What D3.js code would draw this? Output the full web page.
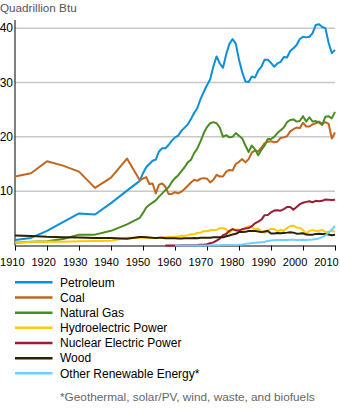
<!DOCTYPE html>
<html>
<head>
<meta charset="utf-8">
<script src="https://cdn.jsdelivr.net/npm/d3@7"></script>
<style>
  body { margin: 0; background: #fff; }
  svg { display: block; font-family: "Liberation Sans", Arial, sans-serif; }
</style>
</head>
<body>
<div id="chart"></div>
<script>
// US primary energy consumption by source, quadrillion Btu
// 5-year steps to 1945, then 1949 and every year 1950-2010
const YEARS = [1910, 1915, 1920, 1925, 1930, 1935, 1940, 1945, 1949, ...d3.range(1950, 2011)];

const PETROLEUM = [1.0, 1.4, 2.7, 4.3, 5.9, 5.7, 7.8, 10.1, 11.9,
  13.3, 14.4, 15.0, 15.6, 15.8, 17.3, 17.9, 17.9, 18.5, 19.3,
  19.9, 20.2, 21.1, 21.7, 22.3, 23.3, 24.4, 25.3, 27.0, 28.3,
  29.5, 30.6, 33.0, 34.8, 33.5, 32.7, 35.2, 37.1, 38.0, 37.1,
  34.2, 31.9, 30.2, 30.1, 31.1, 30.9, 32.2, 32.9, 34.2, 34.2,
  33.6, 32.9, 33.5, 33.8, 34.7, 34.6, 35.8, 36.3, 36.9, 38.0,
  38.4, 38.3, 38.4, 39.1, 40.6, 40.7, 40.2, 40.0, 37.3, 35.4,
  36.0];

const COAL = [12.7, 13.3, 15.5, 14.7, 13.6, 10.6, 12.5, 16.0, 12.0,
  12.3, 12.6, 11.3, 11.4, 9.6, 11.2, 11.4, 10.8, 9.5, 9.5,
  9.8, 9.6, 9.9, 10.4, 11.0, 11.6, 12.1, 11.9, 12.3, 12.4,
  12.3, 11.6, 12.1, 13.0, 12.7, 12.7, 13.6, 13.9, 13.8, 15.0,
  15.4, 15.9, 15.3, 15.9, 17.1, 17.5, 17.3, 18.0, 18.8, 19.1,
  19.2, 19.0, 19.1, 19.8, 19.9, 20.1, 21.0, 21.4, 21.7, 21.6,
  22.6, 21.9, 21.9, 22.3, 22.5, 22.8, 22.4, 22.7, 22.4, 19.7,
  20.8];

const NATURAL_GAS = [0.5, 0.7, 0.8, 1.2, 2.0, 2.0, 2.7, 3.9, 5.1,
  6.0, 7.0, 7.5, 7.9, 8.3, 9.0, 9.6, 10.2, 10.7, 11.7,
  12.4, 12.9, 13.7, 14.4, 15.3, 15.8, 17.0, 17.9, 19.2, 20.7,
  21.8, 22.5, 22.7, 22.5, 21.7, 20.0, 20.3, 19.9, 20.0, 20.7,
  20.2, 19.7, 18.4, 17.2, 18.4, 17.7, 16.6, 17.6, 18.4, 19.6,
  19.6, 20.0, 20.7, 21.2, 21.7, 22.7, 23.1, 23.2, 22.8, 22.9,
  23.8, 22.8, 23.6, 22.8, 22.9, 22.6, 22.2, 23.7, 23.8, 23.4,
  24.6];

const HYDRO = [0.54, 0.66, 0.74, 0.70, 0.79, 0.83, 0.88, 1.44, 1.42,
  1.42, 1.42, 1.47, 1.41, 1.36, 1.36, 1.44, 1.52, 1.59, 1.55,
  1.61, 1.66, 1.82, 1.77, 1.89, 2.06, 2.06, 2.35, 2.35, 2.65,
  2.63, 2.82, 2.86, 2.86, 3.18, 3.16, 2.98, 2.33, 2.94, 2.93,
  2.90, 2.76, 3.27, 3.53, 3.39, 2.97, 3.07, 2.64, 2.33, 2.84,
  3.05, 3.02, 2.62, 2.89, 2.68, 3.21, 3.59, 3.64, 3.30, 3.27,
  2.81, 2.24, 2.69, 2.83, 2.69, 2.70, 2.87, 2.45, 2.51, 2.67,
  2.54];

const NUCLEAR = [null, null, null, null, null, null, null, null, null,
  null, null, null, null, null, null, null, 0.0, 0.0, 0.0,
  0.01, 0.02, 0.03, 0.04, 0.04, 0.04, 0.06, 0.09, 0.14, 0.15,
  0.24, 0.41, 0.58, 0.91, 1.27, 1.90, 2.11, 2.70, 3.02, 2.78,
  2.74, 3.01, 3.13, 3.20, 3.55, 4.08, 4.38, 4.75, 5.59, 5.60,
  6.10, 6.42, 6.48, 6.41, 6.69, 7.08, 7.09, 6.60, 7.07, 7.61,
  7.86, 8.03, 8.15, 7.96, 8.22, 8.16, 8.22, 8.46, 8.43, 8.36,
  8.43];

const WOOD = [1.86, 1.77, 1.61, 1.54, 1.46, 1.40, 1.36, 1.26, 1.55,
  1.56, 1.54, 1.47, 1.42, 1.39, 1.42, 1.42, 1.33, 1.32, 1.35,
  1.32, 1.30, 1.30, 1.32, 1.34, 1.34, 1.37, 1.34, 1.42, 1.44,
  1.43, 1.43, 1.50, 1.53, 1.54, 1.50, 1.71, 1.84, 2.04, 2.15,
  2.48, 2.50, 2.51, 2.68, 2.69, 2.69, 2.56, 2.46, 2.58, 2.68,
  2.22, 2.21, 2.31, 2.26, 2.32, 2.37, 2.44, 2.37, 2.18, 2.21,
  2.26, 2.01, 2.00, 2.00, 2.12, 2.14, 2.11, 2.10, 2.04, 1.88,
  1.99];

const OTHER_RENEWABLE = [null, null, null, null, null, null, null, null, null,
  null, null, null, null, null, null, null, null, null, null,
  0.0, 0.0, 0.0, 0.0, 0.0, 0.0, 0.01, 0.01, 0.01, 0.01,
  0.01, 0.02, 0.03, 0.05, 0.06, 0.07, 0.08, 0.08, 0.08, 0.10,
  0.13, 0.20, 0.30, 0.35, 0.45, 0.50, 0.55, 0.60, 0.65, 0.85,
  0.90, 0.95, 1.00, 1.00, 1.00, 1.00, 1.05, 1.05, 1.00, 1.00,
  1.05, 1.00, 1.05, 1.10, 1.20, 1.30, 1.55, 1.85, 2.40, 2.90,
  3.60];

const SERIES = [
  { name: 'Petroleum', values: PETROLEUM, colour: '#0b8fd8' },
  { name: 'Coal', values: COAL, colour: '#c2651d' },
  { name: 'Natural Gas', values: NATURAL_GAS, colour: '#4a8d22' },
  { name: 'Hydroelectric Power', values: HYDRO, colour: '#ffc808' },
  { name: 'Nuclear Electric Power', values: NUCLEAR, colour: '#9e1b32' },
  { name: 'Wood', values: WOOD, colour: '#2b2000' },
  { name: 'Other Renewable Energy*', values: OTHER_RENEWABLE, colour: '#6ccfff' }
];

const Y_TICKS = [10, 20, 30, 40];
const X_TICKS = d3.range(1910, 2011, 10);
const UNIT_LABEL = 'Quadrillion Btu';
const FOOTNOTE = '*Geothermal, solar/PV, wind, waste, and biofuels';

const width = 340, height = 410;

const svg = d3.select('#chart')
  .append('svg')
  .attr('width', width)
  .attr('height', height);

const x = d3.scaleLinear().domain([1910, 2010]).range([15, 335]);
const y = d3.scaleLinear().domain([0, 41.5]).range([245.5, 20]);
// tick labels sit on a slightly tighter spacing than the tick marks
const xLabel = d3.scaleLinear().domain([1910, 2010]).range([12.3, 326.5]);

// unit label
svg.append('text')
  .attr('x', 0)
  .attr('y', 12)
  .style('font-size', '11.7px')
  .style('fill', '#555')
  .text(UNIT_LABEL);

// gridlines
svg.append('g')
  .selectAll('line')
  .data(Y_TICKS)
  .join('line')
  .attr('x1', x(1910))
  .attr('x2', x(2010))
  .attr('y1', d => y(d))
  .attr('y2', d => y(d))
  .attr('stroke', '#c8c8c8')
  .attr('stroke-width', 1.5);

// y labels
svg.append('g')
  .selectAll('text')
  .data(Y_TICKS)
  .join('text')
  .attr('x', 13)
  .attr('y', d => y(d))
  .attr('dy', '0.36em')
  .attr('text-anchor', 'end')
  .style('font-size', '12px')
  .style('fill', '#000')
  .text(d => d);

// y axis line
svg.append('line')
  .attr('x1', x(1910)).attr('x2', x(1910))
  .attr('y1', y(41.5)).attr('y2', y(0))
  .attr('stroke', '#000')
  .attr('stroke-width', 1);

// x axis
svg.append('g')
  .attr('transform', `translate(0,${y(0)})`)
  .call(d3.axisBottom(x).tickValues(X_TICKS).tickSize(5).tickSizeOuter(0).tickFormat(''))
  .call(g => g.selectAll('path, line').attr('stroke', '#000'));

svg.append('g')
  .selectAll('text')
  .data(X_TICKS)
  .join('text')
  .attr('x', d => xLabel(d))
  .attr('y', 265.5)
  .attr('text-anchor', 'middle')
  .style('font-size', '11px')
  .style('fill', '#000')
  .text(d => d);

// lines
const line = d3.line()
  .defined(d => d.value != null)
  .x(d => x(d.year))
  .y(d => y(d.value));

for (const s of SERIES) {
  const data = YEARS.map((yr, i) => ({ year: yr, value: s.values[i] }));
  svg.append('path')
    .datum(data)
    .attr('d', line)
    .attr('fill', 'none')
    .attr('stroke', s.colour)
    .attr('stroke-width', 2)
    .attr('stroke-linejoin', 'round');
}

// legend
const legend = svg.append('g');
SERIES.forEach((s, i) => {
  const ly = 282.3 + i * 15.17;
  legend.append('line')
    .attr('x1', 15).attr('x2', 52.5)
    .attr('y1', ly).attr('y2', ly)
    .attr('stroke', s.colour)
    .attr('stroke-width', 2.5);
  legend.append('text')
    .attr('x', 60)
    .attr('y', ly)
    .attr('dy', '0.36em')
    .style('font-size', '12px')
    .style('fill', '#000')
    .text(s.name);
});

svg.append('text')
  .attr('x', 60)
  .attr('y', 401)
  .style('font-size', '11.8px')
  .style('fill', '#666')
  .text(FOOTNOTE);
</script>
</body>
</html>
